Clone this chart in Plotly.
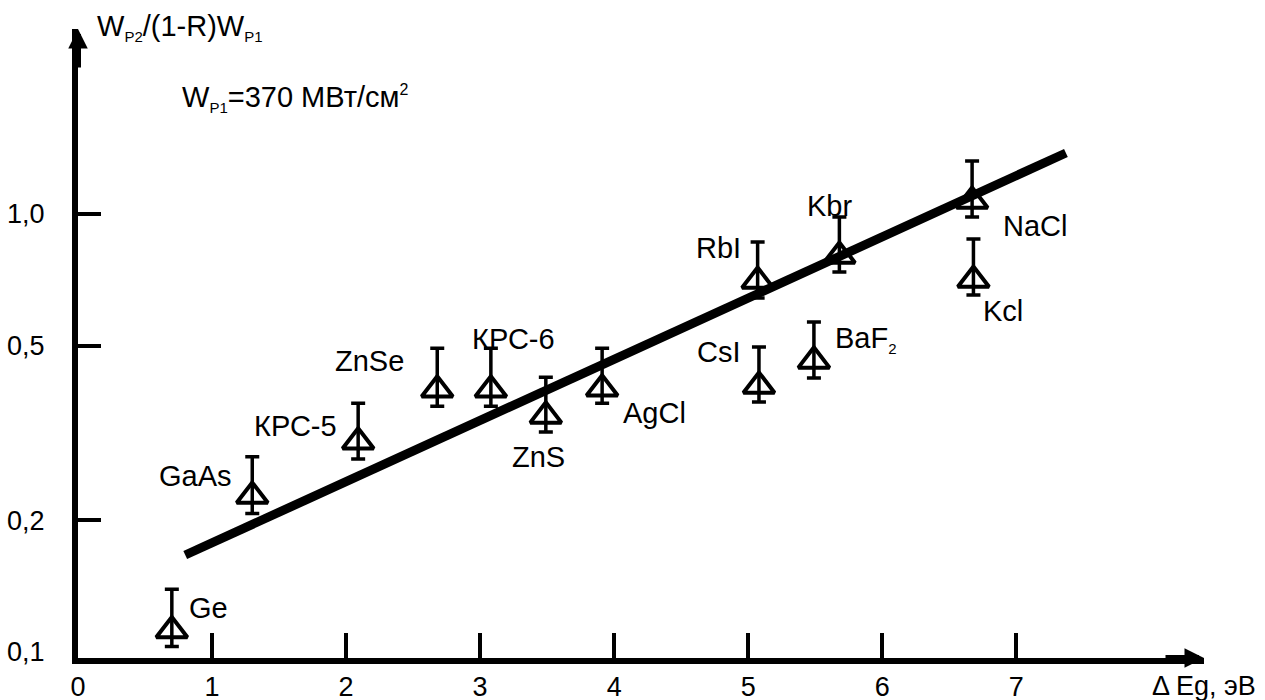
import math
import plotly.graph_objects as go

# ---- data ----
materials = ["Ge", "GaAs", "КРС-5", "ZnSe", "КРС-6", "ZnS", "AgCl",
             "RbI", "CsI", "BaF<sub>2</sub>", "Kbr", "NaCl", "Kcl"]
delta_eg = [0.70, 1.30, 2.09, 2.68, 3.08, 3.49, 3.91,
            5.07, 5.08, 5.49, 5.68, 6.67, 6.68]
ratio = [0.112, 0.227, 0.302, 0.397, 0.397, 0.346, 0.399,
         0.703, 0.405, 0.462, 0.802, 1.071, 0.707]
ratio_hi = [0.139, 0.279, 0.370, 0.494, 0.494, 0.424, 0.494,
            0.863, 0.497, 0.567, 0.984, 1.321, 0.877]
ratio_lo = [0.103, 0.207, 0.276, 0.364, 0.364, 0.318, 0.370,
            0.643, 0.372, 0.422, 0.737, 0.984, 0.653]

fit_x = [0.80, 7.37]
fit_y = [0.1665, 1.378]

x_ticks = [0, 1, 2, 3, 4, 5, 6, 7]
y_ticks = [0.1, 0.2, 0.5, 1.0]
y_ticktext = ["0,1", "0,2", "0,5", "1,0"]

# ---- styling (label offsets in px) ----
label_offsets = {
    "Ge": (37, 22), "GaAs": (-57, 20), "КРС-5": (-63, 16), "ZnSe": (-68, 29),
    "КРС-6": (23, 51), "ZnS": (-7, -41), "AgCl": (52, -24), "RbI": (-39, 33),
    "CsI": (-40, 34), "BaF<sub>2</sub>": (52, 21), "Kbr": (-10, 50),
    "NaCl": (63, -25), "Kcl": (30, -31),
}

FONT = "Liberation Sans, Arial, sans-serif"
FS = 29
TICK_FS = 27

err_plus = [h - v for h, v in zip(ratio_hi, ratio)]
err_minus = [v - l for v, l in zip(ratio, ratio_lo)]

fig = go.Figure()

fig.add_trace(go.Scatter(
    x=fit_x, y=fit_y, mode="lines",
    line=dict(color="black", width=9), showlegend=False, hoverinfo="skip"))

fig.add_trace(go.Scatter(
    x=delta_eg, y=ratio, mode="markers",
    marker=dict(symbol="triangle-up-open", size=27, color="black",
                line=dict(color="black", width=4)),
    error_y=dict(type="data", symmetric=False, array=err_plus,
                 arrayminus=err_minus, color="black", thickness=3.5, width=7),
    showlegend=False))

for name, xv, yv in zip(materials, delta_eg, ratio):
    dx, dy = label_offsets[name]
    txt = name.replace("<sub>2</sub>", "<sub><span style='font-size:15px'>2</span></sub>")
    fig.add_annotation(x=xv, y=math.log10(yv), xref="x", yref="y",
                       text=txt, showarrow=False, xshift=dx, yshift=dy,
                       font=dict(family=FONT, size=FS, color="black"))

X_MAX = 8.4
Y_MIN, Y_MAX = -1.0137, 0.4224

# axis arrowheads
fig.add_annotation(x=X_MAX, y=Y_MIN, xref="x", yref="y", ax=-40, ay=0,
                   showarrow=True, arrowhead=2, arrowsize=0.65, arrowwidth=6,
                   arrowcolor="black", text="")
fig.add_annotation(x=0, y=Y_MAX, xref="x", yref="y", ax=0, ay=40,
                   showarrow=True, arrowhead=2, arrowsize=0.65, arrowwidth=6,
                   arrowcolor="black", text="")

SUB = "<sub><span style='font-size:15px'>{}</span></sub>"
# axis titles and note
fig.add_annotation(x=0.0151, y=1.003, xref="paper", yref="paper",
                   xanchor="left", yanchor="middle", showarrow=False,
                   text="W" + SUB.format("P2") + "/(1-R)W" + SUB.format("P1"),
                   font=dict(family=FONT, size=FS, color="black"))
fig.add_annotation(x=0.0906, y=0.890, xref="paper", yref="paper",
                   xanchor="left", yanchor="middle", showarrow=False,
                   text="W" + SUB.format("P1") + "=370 МВт/см<sup><span style='font-size:16px'>2</span></sup>",
                   font=dict(family=FONT, size=FS, color="black"))
fig.add_annotation(x=1.0, y=-0.044, xref="paper", yref="paper",
                   xanchor="center", yanchor="middle", showarrow=False,
                   text="Δ Eg, эВ",
                   font=dict(family=FONT, size=TICK_FS, color="black"))

fig.update_layout(
    width=1265, height=700,
    margin=dict(l=78, r=61, t=29, b=42, autoexpand=False),
    paper_bgcolor="white", plot_bgcolor="white",
    font=dict(family=FONT, size=FS, color="black"),
    xaxis=dict(range=[0, X_MAX], tickmode="array", tickvals=x_ticks,
               ticktext=[str(v) for v in x_ticks], automargin=False,
               tickfont=dict(size=TICK_FS),
               showline=True, linecolor="black", linewidth=6,
               ticks="inside", ticklen=25, tickwidth=4, tickcolor="black",
               showgrid=False, zeroline=False, ticklabelstandoff=0),
    yaxis=dict(type="log", range=[Y_MIN, Y_MAX], tickmode="array",
               tickvals=y_ticks, ticktext=y_ticktext, automargin=False,
               tickfont=dict(size=TICK_FS),
               showline=True, linecolor="black", linewidth=6,
               ticks="", showgrid=False, zeroline=False,
               ticklabelstandoff=22,
               minor=dict(tickmode="array", tickvals=[0.2, 0.5, 1.0],
                          ticks="inside", ticklen=23, tickwidth=4,
                          tickcolor="black", showgrid=False)),
)

fig.write_html("out.html")
